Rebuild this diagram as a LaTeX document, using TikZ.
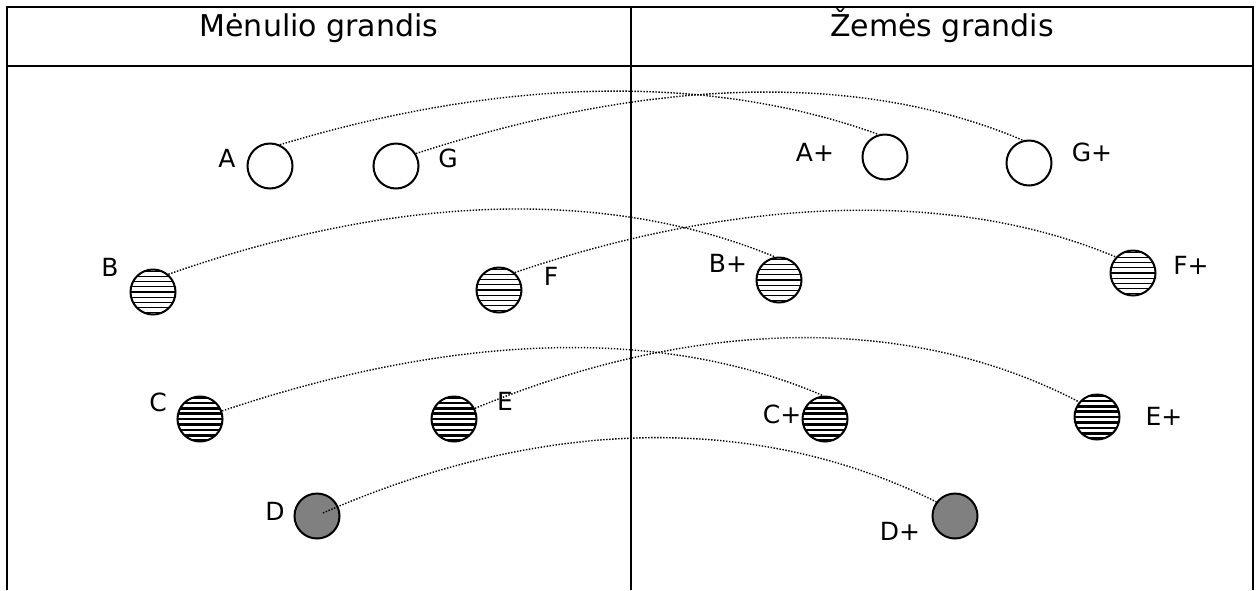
\documentclass[tikz,border=0pt]{standalone}
\usepackage{fontspec}
\setmainfont{DejaVu Sans}

\tikzset{
  frame/.style={line width=1pt},
  moon/.style={circle, draw, line width=1pt, minimum size=22.5pt, inner sep=0pt, fill=white},
  thinhatch/.style={moon, path picture={
      \foreach \k in {-4,...,4}
        \draw[line width=0.6pt] ([yshift=\k*2.6pt]path picture bounding box.west) -- ([yshift=\k*2.6pt]path picture bounding box.east);}},
  thickhatch/.style={moon, path picture={
      \foreach \k in {-4,...,4}
        \draw[line width=1.3pt] ([yshift=\k*2.7pt]path picture bounding box.west) -- ([yshift=\k*2.7pt]path picture bounding box.east);}},
  greymoon/.style={moon, fill=gray},
  lbl/.style={anchor=base, font=\fontsize{12.5}{14}\selectfont, inner sep=1pt},
  head/.style={anchor=base, font=\fontsize{15}{17}\selectfont},
  link/.style={line width=0.7pt, dash pattern=on 0.7pt off 0.8pt}
}

\begin{document}
\begin{tikzpicture}[x=0.5pt, y=-0.5pt]
    \useasboundingbox (0,0) rectangle (1259,590);

    % table
    \draw[frame] (7,590) -- (7,7) -- (1253,7) -- (1253,590);
    \draw[frame] (7,66) -- (1253,66);
    \draw[frame] (631,7) -- (631,590);
    \node[head] (hl) at (319,36) {Mėnulio grandis};
    \node[head] (hr) at (942,36) {Žemės grandis};

    % left side
    \node[moon] (a) at (270,166) {};
    \node[moon] (g) at (396,166) {};
    \node[thinhatch] (b) at (153,292) {};
    \node[thinhatch] (f) at (499,290) {};
    \node[thickhatch] (c) at (200,419) {};
    \node[thickhatch] (e) at (454,419) {};
    \node[greymoon] (d) at (317,516) {};

    % right side
    \node[moon] (ap) at (885,157) {};
    \node[moon] (gp) at (1029,163) {};
    \node[thinhatch] (bp) at (779,280) {};
    \node[thinhatch] (fp) at (1133,273) {};
    \node[thickhatch] (cp) at (825,419) {};
    \node[thickhatch] (ep) at (1097,417) {};
    \node[greymoon] (dp) at (955,516) {};

    % labels
    \node[lbl] (la) at (227,167) {A};
    \node[lbl] (lg) at (448,167) {G};
    \node[lbl] (lb) at (110,276) {B};
    \node[lbl] (lf) at (551,285) {F};
    \node[lbl] (lc) at (158,411) {C};
    \node[lbl] (le) at (505,410) {E};
    \node[lbl] (ld) at (275,520) {D};
    \node[lbl] (lap) at (815,161) {A+};
    \node[lbl] (lgp) at (1092,161) {G+};
    \node[lbl] (lbp) at (728,272) {B+};
    \node[lbl] (lfp) at (1191,274) {F+};
    \node[lbl] (lcp) at (782,423) {C+};
    \node[lbl] (lep) at (1164,425) {E+};
    \node[lbl] (ldp) at (900,540) {D+};

    % links
    \draw[link] (a.65) .. controls +(232,-70) and +(-163,-59) .. (ap.106);
    \draw[link] (g.32) .. controls +(243,-79) and +(-157,-67) .. (gp.105);
    \draw[link] (b.49) .. controls +(230,-81) and +(-167,-69) .. (bp.100);
    \draw[link] (f.48) .. controls +(236,-80) and +(-154,-65) .. (fp.137);
    \draw[link] (c.20) .. controls +(238,-80) and +(-158,-68) .. (cp.95);
    \draw[link] (e.27) .. controls +(231,-95) and +(-163,-85) .. (ep.140);
    \draw[link] ([xshift=3pt,yshift=1.5pt]d.center) .. controls +(230,-101) and +(-170,-85) .. (dp.143);
\end{tikzpicture}
\end{document}
